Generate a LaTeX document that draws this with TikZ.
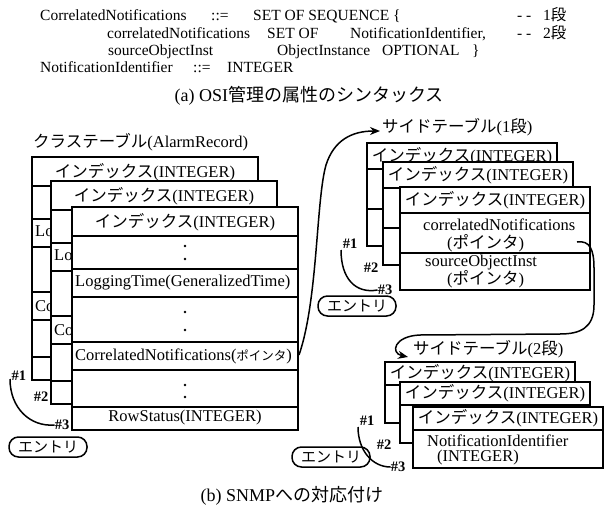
\documentclass[tikz,border=0pt]{standalone}
\usepackage{fontspec}
\setmainfont{Liberation Serif}
\newfontfamily\jp{Noto Sans CJK JP}
\usetikzlibrary{arrows.meta}
\newcommand\J[1]{{\jp #1}}
\tikzset{
 tbl/.style={draw=black, fill=white, line width=1.7pt},
 sep/.style={line width=1.7pt},
 txt/.style={inner sep=0pt, font=\fontsize{16.5}{18}\selectfont},
 syn/.style={inner sep=0pt, anchor=base west, font=\fontsize{15.5}{17}\selectfont},
 captxt/.style={inner sep=0pt, font=\fontsize{18}{20}\selectfont},
 hash/.style={inner sep=0pt, font=\bfseries\fontsize{14.5}{15}\selectfont},
 entry/.style={draw, line width=1.5pt, rounded corners=9.5pt, minimum width=78pt, minimum height=20pt, inner sep=0pt, font=\jp\fontsize{15}{16}\selectfont},
 conn/.style={line width=1.5pt},
 arr/.style={conn, -{Stealth[length=10pt,width=8pt]}},
}
% back record box of the class table: #4 = width of its strip left visible
\newcommand\classback[4]{%
\begin{scope}[shift={(#2,#3)}]
\draw[tbl] (72,207) rectangle (298,430);
\foreach \yy in {236,269,297,342,370,407}{\draw[sep] (72,\yy) -- (298,\yy);}
\node[txt] (#1h) at (185,222) {\J{インデックス}(INTEGER)};
\begin{scope}
\clip (72,237) rectangle (72+#4,429);
\node[txt, anchor=west] (#1lt) at (75,283) {LoggingTime(GeneralizedTime)};
\node[txt, anchor=west] (#1cn) at (75,356) {CorrelatedNotifications};
\end{scope}
\end{scope}}
\begin{document}
\begin{tikzpicture}[x=1pt,y=-1pt]
\useasboundingbox (0,0) rectangle (605,514);
% (a) syntax
\node[syn] (t1a) at (40,20) {CorrelatedNotifications};
\node[syn] (t1b) at (211,20) {::=};
\node[syn] (t1c) at (253,20) {SET OF SEQUENCE \{};
\node[syn] (t1d) at (517,20) {- -};
\node[syn] (t1e) at (543,20) {1\J{段}};
\node[syn] (t2a) at (107,38) {correlatedNotifications};
\node[syn] (t2b) at (267,38) {SET OF};
\node[syn] (t2c) at (350,38) {NotificationIdentifier,};
\node[syn] (t2d) at (517,38) {- -};
\node[syn] (t2e) at (543,38) {2\J{段}};
\node[syn] (t3a) at (108,55) {sourceObjectInst};
\node[syn] (t3b) at (277,55) {ObjectInstance};
\node[syn] (t3c) at (382,55) {OPTIONAL};
\node[syn] (t3d) at (472,55) {\}};
\node[syn] (t4a) at (40,72) {NotificationIdentifier};
\node[syn] (t4b) at (193,72) {::=};
\node[syn] (t4c) at (227,72) {INTEGER};
\node[captxt] (capa) at (309,96) {(a) OSI\J{管理の属性のシンタックス}};
% class table
\node[txt, anchor=west] (cls) at (33,142) {\J{クラステーブル}(AlarmRecord)};
\classback{c1}{-40}{-50}{19}
\classback{c2}{-21}{-26}{21}
\draw[tbl] (72,207) rectangle (298,430);
\foreach \yy in {236,269,297,342,370,407}{\draw[sep] (72,\yy) -- (298,\yy);}
\node[txt] (c3h) at (185,222) {\J{インデックス}(INTEGER)};
\fill (185,246) circle (1.3pt) (185,259) circle (1.3pt);
\node[txt, anchor=west] (c3lt) at (75,283) {LoggingTime(GeneralizedTime)};
\fill (185,312) circle (1.3pt) (185,330) circle (1.3pt);
\node[txt, anchor=west] (c3cn) at (75,356) {CorrelatedNotifications({\jp\fontsize{12.5}{13}\selectfont ポインタ})};
\fill (185,385) circle (1.3pt) (185,397) circle (1.3pt);
\node[txt] (c3rs) at (185,418) {RowStatus(INTEGER)};
\coordinate (c3cnE) at (299,355);
\node[hash] (l1) at (19,376) {\#1};
\node[hash] (l2) at (41,397) {\#2};
\node[hash] (l3) at (62,425) {\#3};
\coordinate (l1s) at (10,379);
\draw[conn] (l1s) .. controls (10,408) and (30,427) .. (l3.west);
\node[entry] (le) at (48,447) {エントリ};
% side table 1
\node[txt, anchor=west] (s1) at (382,127) {\J{サイドテーブル}(1\J{段})};
\foreach \nm/\dx/\dy in {a1/-33/-44, a2/-17/-25}{
 \begin{scope}[shift={(\dx,\dy)}]
 \draw[tbl] (400,187) rectangle (590,290);
 \draw[sep] (400,213) -- (590,213) (400,253) -- (590,253);
 \node[txt] (\nm h) at (495,200) {\J{インデックス}(INTEGER)};
 \end{scope}}
\draw[tbl] (400,187) rectangle (590,290);
\draw[sep] (400,213) -- (590,213) (400,253) -- (590,253);
\node[txt] (a3h) at (495,200) {\J{インデックス}(INTEGER)};
\node[txt, anchor=west] (a3cn) at (423,225) {correlatedNotifications};
\node[txt, anchor=west] (a3cp) at (447,243) {(\J{ポインタ})};
\node[txt, anchor=west] (a3so) at (425,263) {sourceObjectInst};
\node[txt, anchor=west] (a3sp) at (447,279) {(\J{ポインタ})};
\coordinate (a3cnE) at (577,242);
\node[hash] (m1) at (350,244) {\#1};
\node[hash] (m2) at (371,268) {\#2};
\node[hash] (m3) at (385,290) {\#3};
\coordinate (m1s) at (341,250);
\draw[conn] (m1s) .. controls (341,278) and (355,294) .. (m3.west);
\node[entry] (me) at (357,306) {エントリ};
% side table 2
\node[txt, anchor=west] (s2) at (413,349) {\J{サイドテーブル}(2\J{段})};
\foreach \nm/\dx/\dy in {b1/-28/-45, b2/-13/-25}{
 \begin{scope}[shift={(\dx,\dy)}]
 \draw[tbl] (413,407) rectangle (603,468);
 \draw[sep] (413,430) -- (603,430);
 \node[txt] (\nm h) at (508,418) {\J{インデックス}(INTEGER)};
 \end{scope}}
\draw[tbl] (413,407) rectangle (603,468);
\draw[sep] (413,430) -- (603,430);
\node[txt] (b3h) at (508,418) {\J{インデックス}(INTEGER)};
\node[txt, anchor=west] (b3ni) at (427,440.5) {NotificationIdentifier};
\node[txt, anchor=west] (b3in) at (437,458) {(INTEGER)};
\node[hash] (n1) at (367,421) {\#1};
\node[hash] (n2) at (384,445) {\#2};
\node[hash] (n3) at (398,467) {\#3};
\coordinate (n1s) at (358,427);
\draw[conn] (n1s) .. controls (358,450) and (372,467) .. (n3.west);
\node[entry] (ne) at (331,457) {エントリ};
% connectors
\coordinate (s1in) at (380,131);
\draw[arr] (c3cnE) .. controls (318,300) and (316,200) .. (326,165) .. controls (334,140) and (352,131) .. (s1in);
\coordinate (s2in) at (408,357);
\draw[arr] (a3cnE) .. controls (590,240) and (594,250) .. (594,268) -- (594,305) .. controls (594,328) and (580,334) .. (560,334) -- (420,335) .. controls (394,336) and (390,353) .. (s2in);
% caption b
\node[captxt] (capb) at (292,496) {(b) SNMP\J{への対応付け}};
\end{tikzpicture}
\end{document}
